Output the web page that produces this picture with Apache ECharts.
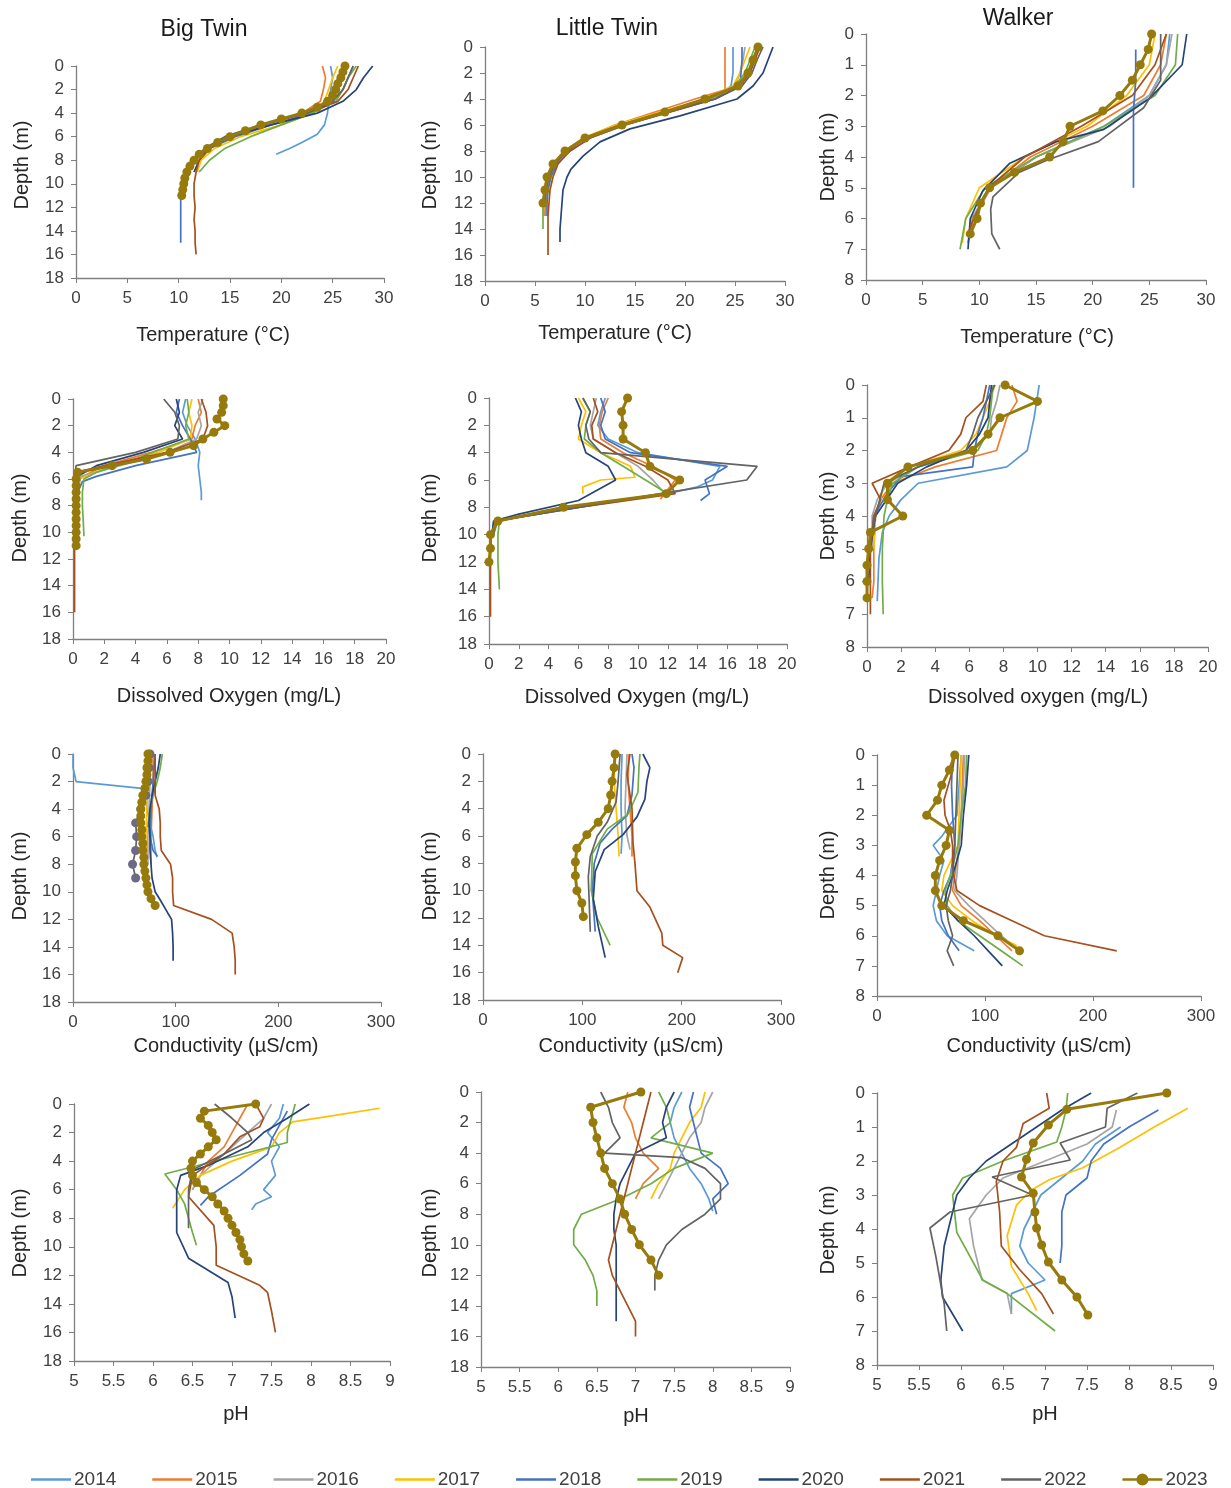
<!DOCTYPE html>
<html>
<head>
<meta charset="utf-8">
<title>Lake profiles</title>
<script src="https://cdn.jsdelivr.net/npm/echarts/dist/echarts.min.js"></script>
<style>
  html, body { margin: 0; padding: 0; background: #ffffff; }
  #chart { width: 1231px; height: 1488px; }
</style>
</head>
<body>
<div id="chart"></div>
<script>
// Survey years and their line colours
const years = ['2014', '2015', '2016', '2017', '2018', '2019', '2020', '2021', '2022', '2023'];
const yearColors = ['#5B9BD5', '#ED7D31', '#A5A5A5', '#FFC000', '#4472C4', '#70AD47', '#264478', '#A5501E', '#636363', '#977A0C'];

// Profiles: one list per year (2014 … 2023), each point is [value, depth (m)]

// Big Twin – temperature (°C)
const btTemp = [
  [[24.8,0],[25,1],[24.8,2],[24.6,3],[24.5,4],[24.2,5],[23.5,5.8],[22,6.5],[20.8,7],[19.5,7.5]],
  [[24,0],[24.3,1],[24.1,2],[23.8,3],[22,4],[18,5],[15,6],[13,7],[12,8]],
  [[26,0],[25.5,1],[25,2],[24.5,3],[22,4],[18.5,5],[15,6],[13,7],[12,8],[11.5,9]],
  [[25.5,0],[25,1],[24.6,2],[24.2,3],[23,4],[20,5],[16,6],[13.5,7],[12.2,8],[11.8,9]],
  [[27,0],[26.5,1],[26,2],[25,3],[23,4],[19,5],[15.5,6],[13,7],[11.5,8],[10.8,9],[10.4,10],[10.2,11],[10.2,12],[10.2,13],[10.2,14],[10.2,15]],
  [[27.3,0],[26.5,1],[26,2],[25.3,3],[23,4],[20,5],[17,6],[14.5,7],[13,8],[12,9]],
  [[28.9,0],[28,1],[27.3,2],[26,3],[23.5,4],[19,5],[15,6],[13,7],[12,8],[11.5,9]],
  [[27.5,0],[27,1],[26.5,2],[25.5,3],[22.5,4],[18,5],[15,6],[13,7],[12,8],[11.7,9],[11.5,10],[11.5,11],[11.6,12],[11.5,13],[11.6,14],[11.6,15],[11.7,16]],
  [[27,0],[26.5,1],[26,2],[25,3],[22.5,4],[18,5],[14.5,6],[12.5,7],[11.5,8],[11,9],[10.8,10]],
  [[26.2,0],[26,0.5],[25.8,1],[25.5,1.5],[25.3,2],[25,2.5],[24.5,3],[23.5,3.5],[22,4],[20,4.5],[18,5],[16.5,5.5],[15,6],[13.8,6.5],[12.8,7],[12,7.5],[11.5,8],[11.1,8.5],[10.8,9],[10.6,9.5],[10.5,10],[10.4,10.5],[10.3,11]]
];

// Little Twin – temperature (°C)
const ltTemp = [
  [[24.8,0],[24.8,1],[24.8,2],[24.6,3],[23,4],[18,5],[13.5,6],[10,7],[8.2,8],[7,9],[6.5,10],[6.2,11],[6.1,12],[6,13]],
  [[24,0],[24,1],[24,2],[24,3.3],[21,4],[17,5],[13,6],[10,7],[8,8],[7,9],[6.5,10],[6.2,11],[6,12],[6,13]],
  [[26,0],[25.8,1],[25.5,2],[25,3],[22.5,4],[17.5,5],[13.5,6],[10,7],[8.2,8],[7,9],[6.4,10],[6.2,11],[6,12]],
  [[26.5,0],[26,1],[25.5,2],[24.8,3],[22,4],[17.5,5],[13,6],[9.8,7],[8,8],[6.8,9],[6.3,10],[6,11],[5.9,12],[5.8,13]],
  [[25.7,0],[25.7,1],[25.6,2],[25.5,3],[23,4],[18.5,5],[14,6],[10.5,7],[8.5,8],[7.2,9],[6.6,10],[6.3,11],[6.2,12],[6.2,13]],
  [[27,0],[26.5,1],[26,2],[25,3],[22.5,4],[18,5],[13.5,6],[10,7],[8,8],[6.8,9],[6.2,10],[5.9,11],[5.8,12],[5.8,13],[5.8,14]],
  [[28.8,0],[28.3,1],[27.8,2],[26.8,3],[25.2,4],[19.5,5.3],[14.5,6.3],[11.5,7.3],[9.8,8.4],[8.6,9.4],[8.2,10],[7.8,11],[7.7,12],[7.6,13],[7.5,14],[7.5,15]],
  [[27.5,0],[27,1],[26.5,2],[25.5,3],[23,4],[18.5,5],[14,6],[10.5,7],[8.5,8],[7.3,9],[6.8,10],[6.5,11],[6.4,12],[6.3,13],[6.3,14],[6.3,15],[6.3,16]],
  [[27.8,0],[27.2,1],[26.7,2],[25.7,3],[23,4],[18,5],[13.5,6],[10,7],[8.2,8],[7,9],[6.4,10],[6.1,11],[6,12]],
  [[27.3,0],[26.8,1],[26.3,2],[25.3,3],[22,4],[18,5],[13.7,6],[10,7],[8,8],[6.8,9],[6.2,10],[6,11],[5.8,12]]
];

// Walker – temperature (°C)
const wkTemp = [
  [[26.8,0],[26.5,1],[25,2],[21,3],[15,4],[11,5],[9.5,6],[9,6.5]],
  [[26.5,0],[26,1],[24.5,2],[20,3],[14.5,4],[11,5],[9.5,6],[9,6.8]],
  [[27,0],[26.5,1],[25,2],[21.5,3],[15,4],[11,5],[9.3,6],[9,6.8]],
  [[25.5,0],[25,1],[23,2],[19.5,3],[14,4],[10,5],[8.8,6],[8.5,6.8]],
  [[23.8,0.5],[23.8,1.5],[23.6,2.5],[23.6,3.5],[23.6,5]],
  [[27.5,0],[27.3,1],[25.5,2],[21,3],[15,4],[10.5,5],[8.8,6],[8.3,7]],
  [[28.3,0],[27.9,1],[25,2.1],[21,3.1],[16.8,3.5],[12.7,4.2],[10.3,5.1],[9.2,6],[9,7]],
  [[26.5,0],[25.5,1],[23.5,2],[19,3],[14,4],[10.8,5],[9.5,6],[9,6.5]],
  [[26,0],[26,1.5],[24.5,2.4],[20.5,3.5],[16,4.1],[13.5,4.5],[11.2,5.3],[11,5.7],[11.1,6.5],[11.8,7]],
  [[25.2,0],[24.9,0.5],[24.2,1],[23.5,1.5],[22.4,2],[20.9,2.5],[18,3],[17.4,3.5],[16.2,4],[13.1,4.5],[10.9,5],[10.1,5.5],[9.8,6],[9.2,6.5]]
];

// Big Twin – dissolved oxygen (mg/L)
const btDO = [
  [[7.2,0],[7,1],[7.3,2],[7.8,3],[8.1,4],[8,5],[8.1,6],[8.2,7],[8.2,7.6]],
  [[8,0],[8.2,1],[7.8,2],[7.6,3],[5,4],[2,5],[0.3,6],[0.2,7],[0.2,8],[0.2,9]],
  [[8.3,0],[8,1],[8.2,2],[7.9,3],[6,4],[3,5],[0.5,5.8],[0.3,7],[0.3,8]],
  [[7.6,0],[7.4,1],[7.6,2],[7.5,3],[5.5,4],[2.5,5],[0.4,6],[0.3,7],[0.3,8]],
  [[6.8,0],[6.6,1],[7,2],[7.5,3],[7.9,4],[4,5],[1.5,5.8],[0.6,6.2],[0.3,7],[0.2,8]],
  [[7.3,0],[7.4,1],[7.2,2],[7.4,3],[4,4.5],[1.5,5.5],[0.7,6],[0.6,7],[0.6,8],[0.65,9],[0.7,10.3]],
  [[6.6,0],[6.8,1],[6.5,2],[7,3],[4.5,4],[1.5,5],[0.3,5.8],[0.2,7],[0.2,8]],
  [[8.2,0],[8.5,1],[8.6,2],[8.3,3],[6,4],[2,5],[0.2,5.5],[0.1,6],[0.1,8],[0.1,10],[0.1,12],[0.1,14],[0.1,16]],
  [[5.8,0],[6.5,1],[6.8,2],[6.7,3],[4,4],[0.2,5],[0.1,6],[0.1,7],[0.1,8]],
  [[9.6,0],[9.6,0.5],[9.5,1],[9.2,1.5],[9.7,2],[9,2.5],[8.3,3],[7.7,3.5],[6.2,4],[4.7,4.5],[2.5,5],[0.3,5.5],[0.2,6],[0.2,6.5],[0.2,7],[0.2,7.5],[0.2,8],[0.2,8.5],[0.2,9],[0.2,9.5],[0.2,10],[0.2,10.5],[0.2,11]]
];

// Little Twin – dissolved oxygen (mg/L)
const ltDO = [
  [[7.8,0],[7.5,1],[7.3,2],[8,3],[10,4],[15.5,5],[15,6],[14,6.5],[12,7],[6,8],[0.6,9],[0.3,10]],
  [[8,0],[7.6,1],[7.4,2],[7.5,3],[9,4],[11,5],[12.5,6],[11.5,7.4]],
  [[7.2,0],[7,1],[6.8,2],[7,3],[8.5,4],[10,5],[11,6],[11.8,7],[5.5,8],[0.5,9],[0.2,10]],
  [[6,0],[6.5,1],[6.2,2],[6,3],[7.5,4],[9.5,5],[9.8,5.8],[7.5,6],[6.3,6.5],[6.3,7]],
  [[7.5,0],[7.8,1],[7.5,2],[7.8,3],[9.5,4],[16,5],[14.5,6],[14.8,7],[14.2,7.5]],
  [[6.3,0],[6.8,1],[6.5,2],[6.4,3],[7.5,4],[9,5],[10.5,6],[12,7],[5,8],[0.7,9],[0.6,10],[0.6,12],[0.7,14]],
  [[5.8,0],[6.2,1],[6,2],[6.2,3],[6.5,4],[8,5],[8.5,6],[6,7.5],[2,8.5],[0.3,9],[0.2,10]],
  [[7,0],[7.3,1],[6.9,2],[7,3],[8.5,4],[10.5,5],[12,6],[12.5,7],[6,8],[0.5,9],[0.1,10],[0.1,12],[0.1,14],[0.1,16]],
  [[6.3,0],[6.8,1],[6.5,2],[6.7,3],[7.5,4],[18,5],[17.3,6],[11.5,7],[6,8],[0.5,9],[0.3,10]],
  [[9.3,0],[8.9,1],[9,2],[9,3],[10.5,4],[10.8,5],[12.8,6],[11.9,7],[5,8],[0.6,9],[0.1,10],[0.1,11],[0,12]]
];

// Walker – dissolved oxygen (mg/L)
const wkDO = [
  [[10.1,0],[9.8,1],[9.6,1.5],[9.4,2],[8.2,2.5],[3,3],[2,3.5],[1.3,4],[0.9,4.5],[0.7,5.3],[0.6,6.6]],
  [[8.5,0],[8.8,0.5],[8.2,1],[7.9,1.5],[7.6,2],[4,2.5],[1.5,3],[0.8,3.5],[0.5,4],[0.4,5],[0.4,6],[0.3,6.5]],
  [[7.8,0],[7.6,0.5],[7.3,1],[7.2,1.5],[6,2],[3,2.5],[1.2,3],[0.6,3.5],[0.3,4],[0.3,5]],
  [[7.5,0],[7.2,0.5],[6.8,1],[6.4,1.5],[5.5,2],[2.5,2.5],[1,3],[0.8,3.5],[0.5,4],[0.4,5]],
  [[7.2,0],[7,0.5],[6.8,1],[6.5,1.5],[6.3,2],[6.2,2.5],[2,2.8],[1.2,3.3],[0.4,4],[0.3,4.5]],
  [[7.4,0],[7.3,0.5],[7.2,1],[7,1.5],[6.5,2],[3,2.5],[1.5,3],[1.2,3.5],[1,4],[0.9,5],[0.9,6],[0.95,7]],
  [[7.3,0],[7.1,1],[6.6,1.5],[5.8,2],[3.5,2.5],[1.8,3],[0.5,4],[0.2,5],[0.1,6]],
  [[7,0],[6.8,0.5],[5.8,1],[5.5,1.5],[4.8,2],[2.5,2.5],[0.3,3],[0.8,3.5],[0.4,4],[0.2,5],[0.2,6],[0.2,7]],
  [[7.5,0],[6.5,1],[6.2,1.5],[5.8,2],[3,2.5],[1,3],[0.5,4],[0.3,4.5]],
  [[8.1,0],[10,0.5],[7.8,1],[7.1,1.5],[6.2,2],[2.4,2.5],[1.2,3],[1.2,3.5],[2.1,4],[0.2,4.5],[0.1,5],[0,5.5],[0,6],[0,6.5]]
];

// Big Twin – conductivity (µS/cm)
const btCond = [
  [[0,0],[0,1],[3,2],[67,2.5],[70,3],[72,4],[75,5],[78,6],[80,7],[82,7.5]],
  [[78,0],[78,2],[77,4],[76,6],[76,8]],
  [[76,0],[75,2],[74,4],[73,6],[73,8]],
  [[74,0],[73,2],[72,4],[71,6],[72,8]],
  [[80,0],[78,2],[76,4],[75,6],[78,7],[82,7.4]],
  [[87,0],[85,1],[82,2],[78,3],[75,4],[73,5.3]],
  [[85,0],[83,1],[80,2],[77,3],[75,4],[74,5],[75,6],[75,7],[76,8],[77,9],[80,10],[85,10.6],[92,11.5],[96,12],[97,13],[97.5,14],[97.5,15]],
  [[80,0],[80,1],[80,2],[80,3],[84,4],[85,5],[85,6],[86,7],[95,8],[97,9],[97,10],[98,11],[135,12],[155,13],[157,14],[158,15],[158,16]],
  [[75,0],[74,1],[73,2],[71,3],[66,4],[61,5],[62,6],[61,7],[58,8],[61,9]],
  [[73,0],[73,0.5],[72,1],[72,1.5],[71,2],[70,2.5],[68,3],[67,3.5],[66,4],[66,4.5],[66,5],[67,5.5],[67,6],[68,6.5],[68,7],[69,7.5],[69,8],[70,8.5],[71,9],[72,9.5],[73,10],[76,10.5],[80,11]]
];

// Little Twin – conductivity (µS/cm)
const ltCond = [
  [[140,0],[139,2],[139,4],[140,6],[139,7.3]],
  [[147,0],[146,2],[148,4],[150,6],[150,7.5]],
  [[145,0],[144,2],[143,4],[145,6],[148,7]],
  [[133,0],[132,2],[134,4],[136,6],[137,7.5]],
  [[150,0],[152,1],[150,3],[145,4.5],[130,5.5],[118,6.5],[112,8],[110,10],[112,12],[113,13]],
  [[158,0],[157,1],[156,2.8],[146,4.4],[125,5.5],[110,7.3],[109,10],[115,12],[128,14]],
  [[161,0],[168,1],[165,2],[163,3.3],[155,4.6],[141,5.9],[122,7],[113,8.6],[111,10.6],[116,12.6],[123,14.9]],
  [[148,0],[145,1.5],[150,4],[151,6.5],[153,8],[155,10],[168,11.2],[180,13.1],[181,14],[201,14.9],[196,16]],
  [[138,0],[136,2],[134,3.5],[125,5],[115,6],[108,7.5],[106,9],[107,11],[108,13]],
  [[133,0],[132,1],[130,2],[128.5,3],[126,4],[116,5],[104.5,5.9],[94.5,6.9],[93,7.9],[93,8.9],[94.5,10],[99.5,10.9],[101,11.9]]
];

// Walker – conductivity (µS/cm)
const wkCond = [
  [[78,0],[76,1],[74,2],[60,2.7],[52,3],[62,3.5],[58,4],[55,4.5],[52,5],[55,5.5],[65,6],[80,6.3],[90,6.5]],
  [[80,0],[79,1],[78,2],[76,3],[72,4],[70,4.5],[78,5],[95,5.5],[110,6],[125,6.5]],
  [[81,0],[80,1],[78,2],[76,3],[74,4],[72,4.5],[85,5],[100,5.5],[115,6],[125,6.3]],
  [[78,0],[77,1],[76,2],[75,3],[62,4],[60,4.5],[70,5],[88,5.5],[110,6],[128,6.3],[132,6.5]],
  [[70,0],[69,1],[70,2],[72,3],[68,4],[62,4.5],[58,5],[60,5.5],[66,6],[72,6.3],[76,6.5]],
  [[83,0],[82,1],[78,2],[75,3],[68,4],[63,4.5],[65,5],[75,5.5],[95,6],[115,6.5],[135,7]],
  [[85,0],[83,1],[80,2],[78,3],[70,4],[65,4.5],[62,5],[75,5.5],[90,6],[103,6.5],[116,7]],
  [[72,0],[70,0.5],[66,1],[62,1.5],[63,2],[68,2.5],[70,3],[70,3.5],[71,4],[74,4.5],[95,5],[125,5.5],[155,6],[222,6.5]],
  [[75,0],[74,1],[73,2],[72,3],[70,4],[68,4.5],[64,5],[66,5.5],[70,6],[65,6.5],[71,7]],
  [[72,0],[67,0.5],[60,1],[56,1.5],[46,2],[67,2.5],[64,3],[58,3.5],[54,4],[54,4.5],[60,5],[80,5.5],[112,6],[132,6.5]]
];

// Big Twin – pH
const btPH = [
  [[7.65,0],[7.6,1],[7.45,2],[7.6,3],[7.5,4],[7.55,5],[7.4,6],[7.5,6.5],[7.3,7],[7.25,7.4]],
  [[7.2,0],[7.1,1],[7.0,2],[6.9,3],[6.7,4],[6.6,5],[6.5,6]],
  [[7.5,0],[7.4,1],[7.2,2],[7.0,3],[6.8,4],[6.6,5],[6.5,6]],
  [[8.87,0.3],[8.3,0.8],[7.77,1.25],[7.6,2],[7.5,3],[7.0,4],[6.6,5],[6.4,6],[6.25,7.3]],
  [[7.7,0.5],[7.6,1.5],[7.5,2.5],[7.45,3.5],[7.1,5],[6.7,6.5],[6.6,7.1]],
  [[7.8,0],[7.75,1],[7.7,2],[7.7,2.7],[6.15,4.9],[6.3,6],[6.4,7],[6.45,8],[6.5,9],[6.55,9.9]],
  [[7.98,0],[7.7,1],[7.4,2],[7.2,3],[6.7,4.3],[6.35,5],[6.3,6],[6.3,7],[6.3,8],[6.3,9],[6.45,10.8],[6.95,12.5],[7.0,13.5],[7.04,15]],
  [[7.3,0],[7.35,0.5],[7.4,1],[7.35,1.6],[7.1,2.3],[6.9,3.5],[6.5,5],[6.45,6.5],[6.77,8.5],[6.8,10],[6.8,11.3],[7.35,12.7],[7.45,13.2],[7.5,14.5],[7.55,16]],
  [[6.78,0],[7.0,1],[7.2,2],[7.25,2.5],[6.9,3.5],[6.5,4.6],[6.45,6],[6.45,7.5],[6.45,8.7]],
  [[7.3,0],[6.65,0.5],[6.6,1],[6.7,1.5],[6.75,2],[6.8,2.5],[6.7,3],[6.6,3.5],[6.5,4],[6.48,4.5],[6.5,5],[6.55,5.5],[6.65,6],[6.75,6.5],[6.82,7],[6.9,7.5],[6.95,8],[7.0,8.5],[7.05,9],[7.1,9.5],[7.12,10],[7.15,10.5],[7.2,11]]
];

// Little Twin – pH
const ltPH = [
  [[7.6,0],[7.5,1],[7.45,2],[7.5,3],[7.6,4],[7.7,5],[7.85,6],[7.95,7],[8.0,7.8]],
  [[6.9,0],[6.85,1],[6.95,2],[7.0,3],[7.1,4],[7.3,5],[7.1,6],[7.0,7]],
  [[8.0,0],[7.9,1],[7.85,2],[7.7,3],[7.6,4],[7.5,5],[7.4,6],[7.3,7]],
  [[7.9,0],[7.85,1],[7.7,2],[7.6,3],[7.5,4],[7.45,5],[7.3,6],[7.2,7]],
  [[7.75,0],[7.7,1],[7.75,2],[7.8,3],[7.85,4],[8.1,5],[8.2,6],[8.0,7],[8.05,8]],
  [[7.3,0],[7.4,1],[7.45,2],[7.2,3],[8.0,4],[7.5,5],[7.2,6],[6.8,7],[6.3,8],[6.2,9],[6.2,10],[6.35,11],[6.45,12],[6.5,13],[6.5,14]],
  [[7.5,0],[7.4,1],[7.35,2],[7.4,3],[7.0,4],[6.9,5],[6.8,6],[6.75,7],[6.72,8],[6.72,9],[6.75,10],[6.75,11],[6.75,12],[6.75,13],[6.75,14],[6.75,15]],
  [[7.2,0],[7.15,1],[7.1,2],[7.05,3],[7.0,4],[6.95,5],[6.9,6],[6.85,7],[6.8,8],[6.75,9],[6.7,10],[6.65,11],[6.7,12],[6.8,13],[6.9,14],[7.0,15],[7.0,16]],
  [[6.55,0],[6.65,1],[6.7,2],[6.8,3],[6.6,4],[7.6,4.3],[7.9,5],[8.1,6],[8.1,7],[7.9,8],[7.6,9],[7.4,10],[7.3,11],[7.25,12],[7.25,13]],
  [[7.07,0],[6.42,1],[6.45,2],[6.5,3],[6.55,4],[6.6,5],[6.7,6],[6.8,7],[6.86,8],[6.95,9],[7.05,10],[7.2,11],[7.3,12]]
];

// Walker – pH
const wkPH = [
  [[7.9,1],[7.6,1.5],[7.45,2],[7.2,2.5],[6.95,3],[6.85,3.5],[6.75,4],[6.7,4.5],[6.8,5],[7.0,5.5],[6.6,5.9],[6.6,6.5]],
  [],
  [[7.85,0.5],[7.8,1],[7.5,1.5],[7.0,2],[6.5,2.5],[6.3,3],[6.1,3.7],[6.15,4.5],[6.25,5.5],[6.55,5.9],[6.6,6.5]],
  [[8.7,0.45],[8.3,1],[7.89,1.6],[7.45,2.2],[7.05,2.55],[6.84,2.85],[6.66,3.3],[6.55,4.2],[6.6,5.1],[6.8,5.9],[6.9,6.4]],
  [[8.35,0.5],[8.0,1],[7.7,1.5],[7.55,2],[7.5,2.5],[7.25,3],[7.2,3.5],[7.2,4],[7.2,4.5],[7.18,5]],
  [[7.27,0],[7.25,0.5],[7.2,1],[7.14,1.44],[6.5,2],[6.02,2.5],[5.9,3],[5.95,4.1],[6.26,5.5],[6.55,5.9],[7.12,7]],
  [[7.55,0],[7.2,0.5],[6.9,1],[6.6,1.5],[6.3,2],[6.1,2.5],[5.95,3],[5.9,3.5],[5.85,4],[5.8,4.5],[5.78,5],[5.76,5.5],[5.78,6],[5.9,6.5],[6.02,7]],
  [[7.02,0],[7.05,0.45],[6.74,0.9],[6.66,1.6],[6.5,2],[6.42,2.6],[6.46,3.5],[6.48,4.5],[6.7,5.2],[6.96,5.9],[7.1,6.5]],
  [[8.1,0],[7.74,0.45],[7.72,1],[7.18,1.47],[7.3,1.97],[6.37,2.47],[6.85,3],[5.87,3.5],[5.63,3.97],[5.7,4.8],[5.75,5.5],[5.8,6.2],[5.83,7]],
  [[8.45,0],[7.26,0.48],[7.04,0.94],[6.86,1.47],[6.78,1.95],[6.72,2.47],[6.86,2.95],[6.88,3.5],[6.9,3.97],[6.96,4.47],[7.04,4.97],[7.2,5.5],[7.38,6],[7.51,6.53]]
];

// Axis scales per variable
const tempAxis = { min: 0, max: 30, interval: 5 };
const doAxis = { min: 0, max: 20, interval: 2 };
const condAxis = { min: 0, max: 300, interval: 100 };
const phAxis = { min: 5, max: 9, interval: 0.5 };
const deepAxis = { max: 18, interval: 2 };
const shallowAxis = { max: 8, interval: 1 };

// Panel layout (grid rectangles in px)
const panels = [
  { data: btTemp, x: tempAxis, y: deepAxis,    rect: [76, 66, 308, 212] },
  { data: ltTemp, x: tempAxis, y: deepAxis,    rect: [485, 47, 300, 234] },
  { data: wkTemp, x: tempAxis, y: shallowAxis, rect: [866, 34, 340, 246] },
  { data: btDO,   x: doAxis,   y: deepAxis,    rect: [73, 399, 313, 240] },
  { data: ltDO,   x: doAxis,   y: deepAxis,    rect: [489, 398, 298, 246] },
  { data: wkDO,   x: doAxis,   y: shallowAxis, rect: [867, 385, 341, 262] },
  { data: btCond, x: condAxis, y: deepAxis,    rect: [73, 754, 308, 248], dotted: { 8: '#6c6a86' } },
  { data: ltCond, x: condAxis, y: deepAxis,    rect: [483, 754, 298, 246] },
  { data: wkCond, x: condAxis, y: shallowAxis, rect: [877, 755, 324, 241] },
  { data: btPH,   x: phAxis,   y: deepAxis,    rect: [74, 1104, 316, 257] },
  { data: ltPH,   x: phAxis,   y: deepAxis,    rect: [481, 1092, 309, 275] },
  { data: wkPH,   x: phAxis,   y: shallowAxis, rect: [877, 1093, 336, 272] }
];

const FONT = '"Liberation Sans", Arial, sans-serif';
const axisColor = '#7f7f7f';
const labelColor = '#404040';

const grid = [], xAxis = [], yAxis = [], series = [];
panels.forEach((p, i) => {
  grid.push({ left: p.rect[0], top: p.rect[1], width: p.rect[2], height: p.rect[3], containLabel: false });
  xAxis.push({
    type: 'value', gridIndex: i, min: p.x.min, max: p.x.max, interval: p.x.interval,
    axisLine: { show: true, onZero: false, lineStyle: { color: axisColor, width: 1.3 } },
    axisTick: { show: true, inside: false, length: 5, lineStyle: { color: axisColor } },
    axisLabel: { color: labelColor, fontSize: 17, fontFamily: FONT, margin: 12, showMinLabel: true, showMaxLabel: true },
    splitLine: { show: false }
  });
  yAxis.push({
    type: 'value', gridIndex: i, inverse: true, min: 0, max: p.y.max, interval: p.y.interval,
    axisLine: { show: true, onZero: false, lineStyle: { color: axisColor, width: 1.3 } },
    axisTick: { show: true, inside: false, length: 5, lineStyle: { color: axisColor } },
    axisLabel: { color: labelColor, fontSize: 17, fontFamily: FONT, margin: 12, showMinLabel: true, showMaxLabel: true },
    splitLine: { show: false }
  });
  p.data.forEach((pts, k) => {
    const last = k === years.length - 1;
    const dotColor = p.dotted && p.dotted[k];
    series.push({
      type: 'line', name: years[k], xAxisIndex: i, yAxisIndex: i,
      data: pts,
      color: yearColors[k],
      symbol: (last || dotColor) ? 'circle' : 'none',
      symbolSize: 9,
      showSymbol: !!(last || dotColor),
      itemStyle: { color: dotColor || yearColors[k] },
      lineStyle: { color: yearColors[k], width: last ? 3 : 1.7 },
      z: last ? 5 : 2,
      silent: true
    });
  });
});

// Panel headings and axis titles
const headings = [
  ['Big Twin', 204, 30], ['Little Twin', 607, 29], ['Walker', 1018, 19]
];
const xTitles = [
  ['Temperature (°C)', 213, 335], ['Temperature (°C)', 615, 333], ['Temperature (°C)', 1037, 337],
  ['Dissolved Oxygen (mg/L)', 229, 696], ['Dissolved Oxygen (mg/L)', 637, 697], ['Dissolved oxygen (mg/L)', 1038, 697],
  ['Conductivity (µS/cm)', 226, 1046], ['Conductivity (µS/cm)', 631, 1046], ['Conductivity (µS/cm)', 1039, 1046],
  ['pH', 236, 1414], ['pH', 636, 1416], ['pH', 1045, 1414]
];
const yTitles = [
  [22, 165], [430, 165], [828, 157],
  [20, 518], [430, 518], [828, 516],
  [20, 876], [430, 876], [828, 875],
  [20, 1233], [430, 1233], [828, 1230]
];

const graphic = [];
headings.forEach(([t, x, y]) => graphic.push({
  type: 'text', x, y, style: { text: t, fill: '#1a1a1a', font: '23px ' + FONT, textAlign: 'center', textVerticalAlign: 'middle' }
}));
xTitles.forEach(([t, x, y]) => graphic.push({
  type: 'text', x, y, style: { text: t, fill: '#262626', font: '20px ' + FONT, textAlign: 'center', textVerticalAlign: 'middle' }
}));
yTitles.forEach(([x, y]) => graphic.push({
  type: 'text', x, y, rotation: Math.PI / 2,
  style: { text: 'Depth (m)', fill: '#262626', font: '20px ' + FONT, textAlign: 'center', textVerticalAlign: 'middle' }
}));

// Legend keys: plain line for most years, line with a dot for 2023
const lineKey = 'path://M0,0 L40,0 L40,2.4 L0,2.4 Z';
const dotKey = 'path://M0,5.2 L40,5.2 L40,7.8 L0,7.8 Z M26,6.5 A6,6 0 1,1 14,6.5 A6,6 0 1,1 26,6.5 Z';

const chart = echarts.init(document.getElementById('chart'), null, { renderer: 'canvas' });
chart.setOption({
  backgroundColor: '#ffffff',
  animation: false,
  textStyle: { fontFamily: FONT },
  grid, xAxis, yAxis, series, graphic,
  legend: {
    data: years.map((y, k) => ({ name: y, icon: k === years.length - 1 ? dotKey : lineKey })),
    left: 26, top: 1465,
    itemWidth: 40, itemHeight: 14, itemGap: 36,
    textStyle: { fontSize: 19, color: '#404040', fontFamily: FONT, padding: [0, 0, 0, -2] },
    selectedMode: false
  }
});
</script>
</body>
</html>
